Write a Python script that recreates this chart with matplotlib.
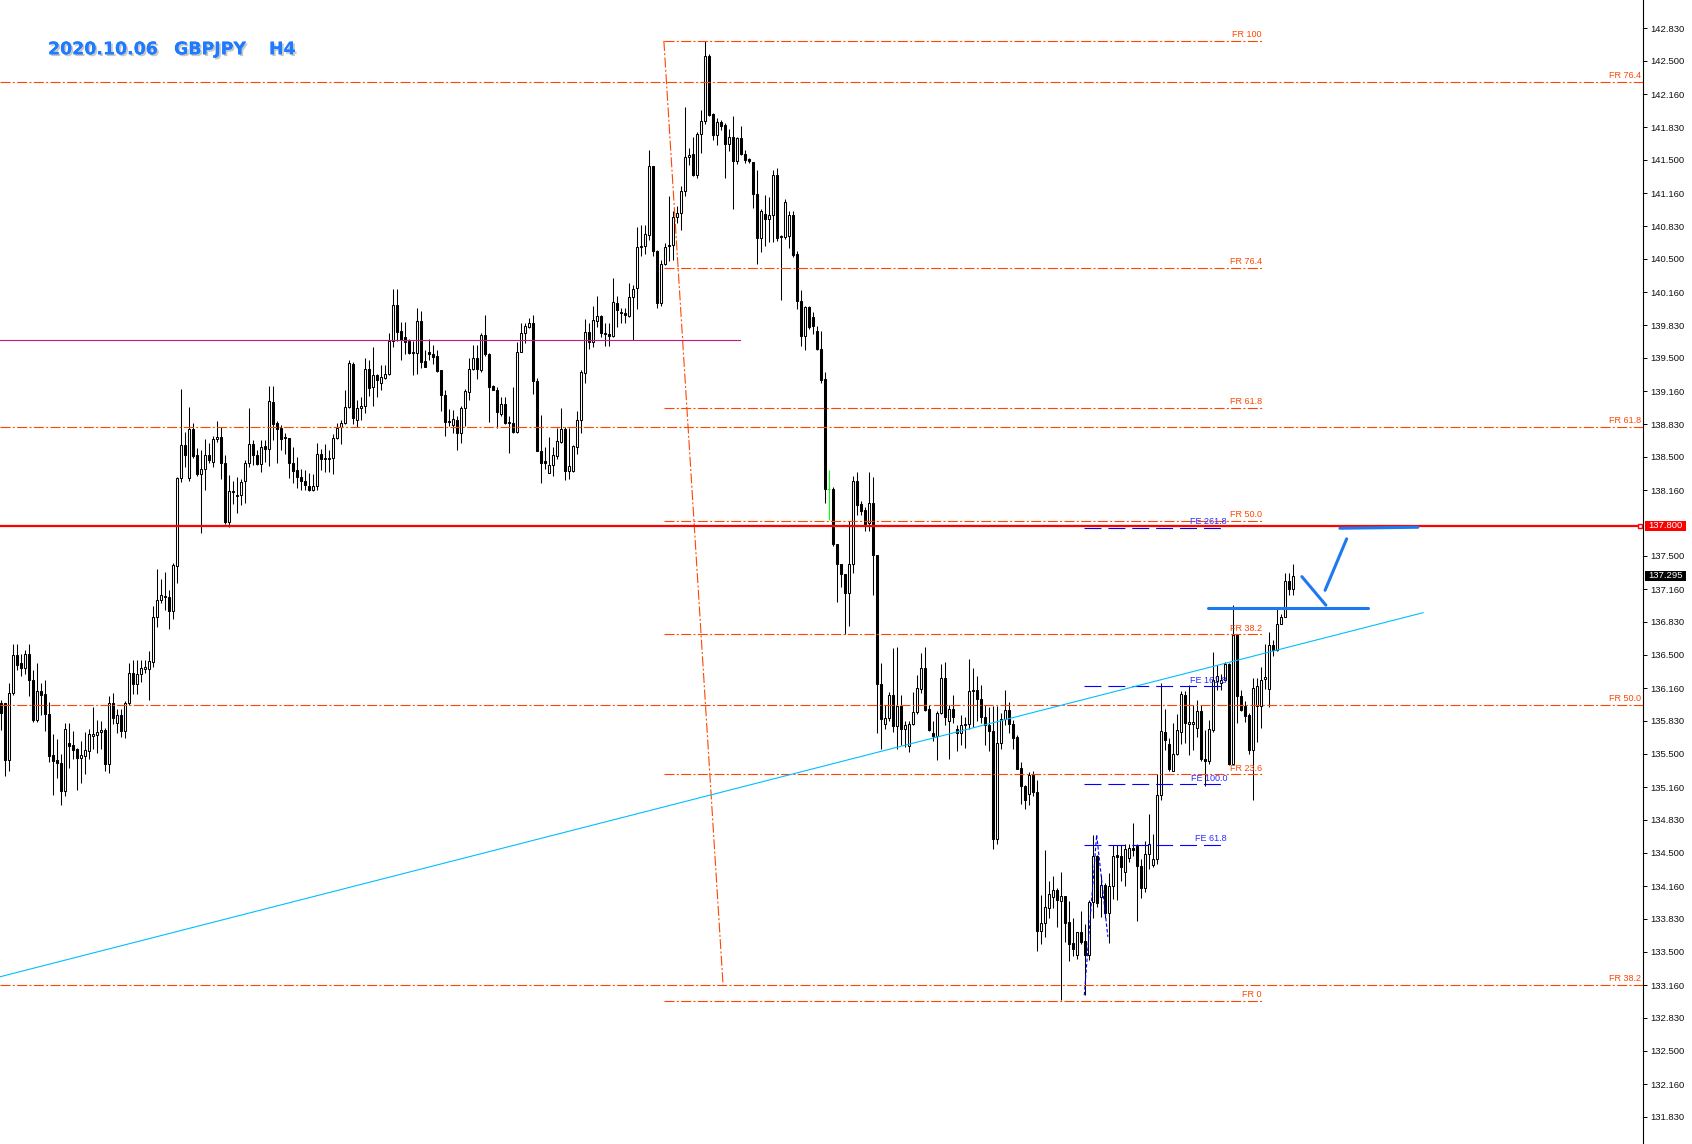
import numpy as np
import matplotlib
matplotlib.use("Agg")
import matplotlib.pyplot as plt
from matplotlib import patheffects as pe
from matplotlib.patches import Rectangle
from matplotlib.transforms import blended_transform_factory

plt.rcParams['lines.scale_dashes'] = False
plt.rcParams['font.family'] = ['DejaVu Sans']

# ---------------- data: GBPJPY H4 candles ----------------
opens = [
    136.01, 136.01, 135.44, 136.11, 136.50, 136.42, 136.37, 136.51, 136.24, 135.84,
    136.13, 136.10, 135.90, 135.49, 135.44, 135.41, 135.12, 135.61, 135.59, 135.55,
    135.46, 135.48, 135.53, 135.68, 135.69, 135.72, 135.74, 135.40, 136.01, 135.81,
    135.89, 135.73, 136.01, 136.31, 136.20, 136.30, 136.36, 136.36, 136.43, 136.88,
    137.05, 137.08, 137.08, 136.94, 137.40, 138.28, 138.62, 138.28, 138.78, 138.52,
    138.32, 138.38, 138.52, 138.45, 138.68, 138.70, 138.44, 137.84, 138.15, 138.10,
    138.11, 138.25, 138.44, 138.63, 138.52, 138.43, 138.61, 138.58, 139.05, 138.84,
    138.79, 138.70, 138.69, 138.44, 138.37, 138.29, 138.25, 138.20, 138.16, 138.20,
    138.53, 138.48, 138.48, 138.49, 138.69, 138.80, 138.84, 139.00, 139.44, 138.87,
    138.99, 139.01, 139.39, 139.20, 139.33, 139.24, 139.29, 139.34, 139.67, 140.03,
    139.77, 139.71, 139.67, 139.55, 139.55, 139.87, 139.47, 139.56, 139.54, 139.52,
    139.38, 139.12, 138.85, 138.82, 138.87, 138.74, 138.99, 139.15, 139.39, 139.50,
    139.38, 139.73, 139.54, 139.21, 139.17, 138.93, 139.03, 138.85, 138.84, 138.75,
    139.56, 139.75, 139.81, 139.85, 139.26, 138.56, 138.46, 138.34, 138.42, 138.51,
    138.65, 138.78, 138.36, 138.36, 138.60, 138.87, 139.35, 139.76, 139.66, 139.87,
    139.92, 139.75, 139.74, 139.72, 140.05, 139.95, 139.95, 139.92, 140.11, 140.20,
    140.62, 140.63, 140.74, 141.44, 140.58, 140.05, 140.45, 140.63, 140.64, 140.92,
    140.96, 141.18, 141.53, 141.56, 141.35, 141.76, 141.89, 142.55, 141.96, 141.75,
    141.88, 141.85, 141.66, 141.73, 141.49, 141.72, 141.56, 141.51, 141.48, 141.15,
    140.71, 140.95, 140.90, 140.94, 141.35, 140.72, 140.72, 140.73, 140.94, 140.55,
    140.07, 139.72, 140.01, 139.91, 139.77, 139.59, 139.28, 138.17, 138.17, 137.62,
    137.42, 137.31, 137.12, 137.42, 138.25, 138.02, 137.96, 137.83, 138.03, 137.51,
    136.20, 135.80, 135.86, 136.09, 135.78, 135.98, 135.75, 135.58, 135.80, 135.92,
    136.15, 136.37, 135.95, 135.71, 135.68, 135.91, 136.26, 135.83, 135.95, 135.75,
    135.71, 135.79, 135.80, 136.13, 136.14, 136.05, 135.87, 135.79, 135.73, 134.64,
    135.61, 135.85, 135.94, 135.80, 135.67, 135.36, 135.17, 135.09, 135.28, 135.11,
    133.71, 133.79, 133.94, 134.05, 134.12, 134.01, 134.06, 133.80, 133.59, 133.47,
    133.70, 133.61, 133.47, 134.00, 134.47, 134.05, 134.17, 133.89, 134.16, 134.48,
    134.47, 134.30, 134.45, 134.55, 134.57, 134.37, 134.14, 134.49, 134.38, 134.44,
    135.08, 135.72, 135.60, 135.32, 135.50, 135.72, 136.09, 135.80, 135.80, 135.76,
    135.93, 135.45, 135.43, 135.74, 136.23, 136.21, 136.24, 136.41, 135.40, 136.70,
    136.08, 135.98, 135.89, 135.54, 135.98, 135.98, 136.25, 136.15, 136.60, 136.55,
    136.81, 136.88, 137.24, 137.16,
]
highs = [
    136.04, 136.01, 136.21, 136.61, 136.61, 136.51, 136.55, 136.61, 136.35, 136.42,
    136.21, 136.24, 136.02, 135.70, 135.65, 135.50, 135.81, 135.81, 135.73, 135.56,
    135.63, 135.72, 135.75, 135.97, 135.84, 135.83, 135.76, 136.08, 136.11, 135.95,
    135.95, 136.03, 136.42, 136.45, 136.45, 136.45, 136.45, 136.54, 136.99, 137.37,
    137.26, 137.33, 137.15, 137.43, 138.29, 139.18, 138.75, 139.00, 138.84, 138.59,
    138.57, 138.68, 138.64, 138.71, 138.86, 138.80, 138.52, 138.31, 138.25, 138.29,
    138.27, 138.47, 138.99, 138.67, 138.57, 138.67, 138.67, 139.21, 139.21, 138.86,
    138.82, 138.74, 138.69, 138.60, 138.50, 138.38, 138.37, 138.33, 138.32, 138.64,
    138.58, 138.63, 138.57, 138.73, 138.84, 138.87, 139.17, 139.48, 139.46, 139.07,
    139.10, 139.50, 139.48, 139.61, 139.34, 139.43, 139.43, 139.75, 140.19, 140.19,
    139.86, 139.86, 139.69, 139.67, 140.00, 139.97, 139.58, 139.69, 139.63, 139.58,
    139.38, 139.17, 138.98, 138.97, 138.91, 139.01, 139.18, 139.50, 139.63, 139.63,
    139.75, 139.93, 139.55, 139.22, 139.20, 139.10, 139.10, 138.91, 139.20, 139.66,
    139.85, 139.85, 139.90, 139.93, 139.29, 138.92, 138.60, 138.70, 138.60, 138.79,
    138.99, 138.80, 138.79, 138.62, 138.96, 139.38, 139.89, 139.85, 140.02, 140.12,
    139.93, 139.85, 139.85, 140.30, 140.12, 140.00, 140.00, 140.25, 140.23, 140.82,
    140.84, 140.84, 141.60, 141.44, 140.59, 140.49, 140.66, 141.13, 140.98, 141.03,
    141.23, 142.03, 141.62, 141.73, 141.78, 142.00, 142.70, 142.57, 141.97, 141.92,
    141.90, 141.87, 141.81, 141.94, 141.73, 141.84, 141.60, 141.52, 141.48, 141.40,
    141.00, 141.14, 141.12, 141.40, 141.42, 140.74, 141.10, 140.98, 140.98, 140.58,
    140.18, 140.02, 140.02, 139.96, 139.82, 139.77, 139.36, 138.37, 138.19, 137.62,
    137.42, 137.31, 137.85, 138.30, 138.35, 138.05, 137.99, 138.35, 138.29, 137.51,
    136.42, 135.99, 136.12, 136.57, 136.58, 136.09, 135.83, 135.83, 136.12, 136.29,
    136.52, 136.58, 135.99, 135.83, 135.93, 136.41, 136.43, 135.99, 136.09, 135.79,
    135.89, 135.87, 136.46, 136.37, 136.28, 136.19, 135.99, 135.97, 135.98, 135.98,
    135.91, 136.14, 136.02, 135.84, 135.69, 135.42, 135.18, 135.31, 135.32, 135.23,
    134.07, 134.53, 134.21, 134.26, 134.14, 134.30, 134.06, 134.01, 133.84, 133.70,
    133.91, 133.78, 134.02, 134.68, 134.48, 134.27, 134.19, 134.29, 134.58, 134.58,
    134.58, 134.59, 134.59, 134.80, 134.59, 134.44, 134.62, 134.89, 134.69, 135.29,
    136.21, 135.95, 135.66, 135.81, 135.90, 136.13, 136.13, 136.19, 135.99, 136.04,
    135.99, 135.74, 135.84, 136.53, 136.40, 136.30, 136.43, 136.42, 137.00, 136.71,
    136.14, 136.03, 135.91, 136.26, 136.26, 136.38, 136.61, 136.73, 136.65, 136.98,
    136.91, 137.32, 137.32, 137.42,
]
lows = [
    135.74, 135.27, 135.32, 136.09, 136.35, 136.28, 136.30, 136.08, 135.82, 135.82,
    135.89, 135.73, 135.42, 135.08, 135.25, 134.98, 135.07, 135.36, 135.45, 135.13,
    135.20, 135.29, 135.45, 135.55, 135.51, 135.55, 135.32, 135.30, 135.80, 135.71,
    135.67, 135.66, 135.99, 136.10, 136.10, 136.22, 136.31, 136.04, 136.38, 136.78,
    137.02, 136.95, 136.76, 136.86, 137.22, 138.24, 138.40, 138.25, 138.49, 138.30,
    137.73, 138.16, 138.44, 138.40, 138.65, 138.27, 137.82, 137.79, 138.02, 137.93,
    138.01, 138.03, 138.40, 138.42, 138.42, 138.35, 138.45, 138.41, 138.67, 138.44,
    138.57, 138.53, 138.28, 138.23, 138.18, 138.16, 138.16, 138.15, 138.15, 138.16,
    138.37, 138.35, 138.35, 138.32, 138.68, 138.63, 138.83, 138.99, 138.83, 138.80,
    138.87, 138.94, 139.11, 139.01, 139.10, 139.17, 139.28, 139.32, 139.61, 139.67,
    139.48, 139.54, 139.54, 139.32, 139.34, 139.40, 139.41, 139.48, 139.44, 139.36,
    138.96, 138.71, 138.81, 138.74, 138.57, 138.64, 138.81, 139.07, 139.38, 139.28,
    139.36, 139.52, 138.85, 139.17, 138.79, 138.91, 138.83, 138.54, 138.74, 138.74,
    139.56, 139.65, 139.80, 139.13, 138.56, 138.23, 138.38, 138.33, 138.30, 138.48,
    138.64, 138.26, 138.27, 138.35, 138.53, 138.74, 139.24, 139.59, 139.61, 139.81,
    139.71, 139.62, 139.62, 139.71, 139.81, 139.85, 139.85, 139.91, 139.68, 139.99,
    140.53, 140.55, 140.69, 140.53, 140.00, 140.02, 140.44, 140.48, 140.49, 140.86,
    140.79, 141.13, 141.45, 141.34, 141.31, 141.57, 141.86, 141.94, 141.70, 141.65,
    141.80, 141.31, 141.59, 141.00, 141.46, 141.55, 141.47, 141.47, 141.01, 140.45,
    140.57, 140.63, 140.67, 140.67, 140.68, 140.08, 140.70, 140.61, 140.52, 139.99,
    139.62, 139.58, 139.79, 139.74, 139.58, 139.24, 138.03, 137.86, 137.60, 137.03,
    137.18, 136.71, 136.79, 137.32, 137.91, 137.91, 137.75, 137.75, 137.10, 135.71,
    135.55, 135.75, 135.83, 135.72, 135.55, 135.59, 135.57, 135.52, 135.79, 135.90,
    136.11, 135.93, 135.73, 135.63, 135.44, 135.90, 135.79, 135.45, 135.81, 135.53,
    135.59, 135.56, 135.75, 135.77, 135.83, 135.81, 135.59, 135.53, 134.54, 134.59,
    135.55, 135.79, 135.71, 135.55, 135.35, 134.99, 134.94, 134.98, 135.07, 133.51,
    133.58, 133.65, 133.84, 133.94, 133.75, 133.01, 133.60, 133.41, 133.46, 133.43,
    133.58, 133.06, 133.42, 133.84, 133.95, 133.85, 133.84, 133.59, 134.03, 134.02,
    134.21, 134.16, 134.41, 134.47, 133.81, 134.04, 134.10, 134.33, 134.36, 134.39,
    135.03, 135.54, 135.32, 135.32, 135.49, 135.60, 135.61, 135.49, 135.54, 135.67,
    135.43, 135.17, 135.40, 135.72, 136.14, 136.14, 136.23, 135.39, 135.39, 135.81,
    135.93, 135.82, 135.50, 135.03, 135.62, 135.76, 136.15, 135.97, 136.49, 136.54,
    136.81, 136.88, 137.10, 137.10,
]
closes = [
    135.91, 135.44, 136.11, 136.50, 136.40, 136.37, 136.51, 136.24, 135.84, 136.13,
    136.09, 135.90, 135.48, 135.43, 135.41, 135.12, 135.75, 135.58, 135.54, 135.46,
    135.49, 135.54, 135.70, 135.70, 135.72, 135.74, 135.40, 136.01, 135.86, 135.89,
    135.73, 136.01, 136.31, 136.20, 136.30, 136.37, 136.38, 136.44, 136.88, 137.05,
    137.10, 137.09, 136.94, 137.41, 138.28, 138.62, 138.52, 138.78, 138.51, 138.32,
    138.38, 138.52, 138.47, 138.68, 138.70, 138.44, 137.84, 138.15, 138.14, 138.11,
    138.24, 138.44, 138.63, 138.52, 138.43, 138.60, 138.58, 139.06, 138.83, 138.78,
    138.68, 138.69, 138.44, 138.36, 138.29, 138.25, 138.21, 138.16, 138.20, 138.53,
    138.48, 138.49, 138.49, 138.69, 138.79, 138.84, 139.00, 139.45, 138.89, 138.99,
    139.01, 139.39, 139.19, 139.33, 139.27, 139.30, 139.34, 139.67, 140.03, 139.76,
    139.68, 139.66, 139.55, 139.56, 139.87, 139.46, 139.41, 139.54, 139.51, 139.37,
    139.12, 138.85, 138.86, 138.88, 138.74, 138.99, 139.16, 139.39, 139.50, 139.39,
    139.73, 139.54, 139.20, 139.17, 138.95, 139.03, 138.84, 138.84, 138.75, 139.56,
    139.75, 139.82, 139.85, 139.26, 138.56, 138.44, 138.44, 138.42, 138.52, 138.66,
    138.78, 138.36, 138.41, 138.61, 138.87, 139.36, 139.76, 139.66, 139.88, 139.92,
    139.75, 139.74, 139.72, 140.06, 139.98, 139.96, 139.93, 140.11, 140.19, 140.62,
    140.63, 140.75, 141.44, 140.58, 140.05, 140.45, 140.62, 140.64, 140.92, 140.96,
    141.18, 141.53, 141.55, 141.35, 141.76, 141.89, 142.55, 141.95, 141.75, 141.88,
    141.84, 141.66, 141.73, 141.49, 141.72, 141.56, 141.50, 141.49, 141.15, 140.71,
    140.98, 140.90, 140.94, 141.35, 140.71, 140.73, 141.07, 140.94, 140.54, 140.07,
    139.72, 140.01, 139.81, 139.82, 139.59, 139.27, 138.17, 138.17, 137.62, 137.42,
    137.31, 137.12, 137.42, 138.25, 138.01, 137.95, 137.82, 138.03, 137.51, 136.20,
    135.85, 135.86, 136.09, 135.78, 135.98, 135.75, 135.79, 135.80, 135.92, 136.16,
    136.37, 135.94, 135.74, 135.68, 135.91, 136.26, 135.87, 135.95, 135.87, 135.71,
    135.79, 135.80, 136.13, 136.14, 136.05, 135.87, 135.79, 135.73, 134.64, 135.61,
    135.85, 135.94, 135.80, 135.66, 135.35, 135.17, 135.03, 135.28, 135.11, 133.71,
    133.79, 133.95, 134.08, 134.12, 134.02, 134.06, 133.79, 133.58, 133.53, 133.70,
    133.60, 133.47, 134.00, 134.47, 133.99, 134.17, 133.89, 134.16, 134.47, 134.46,
    134.36, 134.54, 134.55, 134.53, 134.37, 134.14, 134.49, 134.59, 134.44, 135.08,
    135.73, 135.64, 135.34, 135.50, 135.74, 136.10, 135.81, 135.82, 135.82, 135.93,
    135.45, 135.43, 135.75, 136.24, 136.28, 136.24, 136.41, 135.40, 136.70, 136.08,
    135.94, 135.88, 135.54, 136.16, 136.18, 136.24, 136.27, 136.60, 136.55, 136.81,
    136.88, 137.24, 137.16, 137.295,
]

tick_values = [142.830, 142.500, 142.160, 141.830, 141.500, 141.160, 140.830,
               140.500, 140.160, 139.830, 139.500, 139.160, 138.830, 138.500,
               138.160, 137.500, 137.160, 136.830, 136.500, 136.160, 135.830,
               135.500, 135.160, 134.830, 134.500, 134.160, 133.830, 133.500,
               133.160, 132.830, 132.500, 132.160, 131.830]

title_parts = ["2020.10.06", "GBPJPY", "H4"]

# Fibonacci retracement (wide set, labels at the price axis)
fr_wide_levels = [142.287, 138.800, 135.990, 133.163]
fr_wide_labels = ["FR 76.4", "FR 61.8", "FR 50.0", "FR 38.2"]
# Fibonacci retracement (swing set)
fr_swing_levels = [142.70, 140.41, 138.995, 137.85, 136.705, 135.29, 133.00]
fr_swing_labels = ["FR 100", "FR 76.4", "FR 61.8", "FR 50.0", "FR 38.2", "FR 23.6", "FR 0"]
fr_swing_span = (165.8, 315.3)           # bar index range
fr_swing_diag_x = [165.8, 180.6]
fr_swing_diag_y = [142.70, 133.16]
# Fibonacci expansion
fe_levels = [134.58, 135.19, 136.18, 137.78]
fe_labels = ["FE 61.8", "FE 100.0", "FE 161.8", "FE 261.8"]
fe_span = (270.8, 305.3)
fe_label_x = 306.6
fe_zig_x = [270.9, 274.0, 276.8]
fe_zig_y = [133.06, 134.68, 133.65]
# other objects
support_price = 137.800
last_price = 137.295
range_line_price = 139.68
range_line_span = (-0.17, 184.8)
trend_x = [-0.17, 355.6]
trend_y = [133.246, 136.924]
sketch_lines = [
    ([301.8, 341.8], [136.97, 136.97]),
    ([334.8, 354.3], [137.777, 137.787]),
    ([325.3, 331.3], [137.288, 137.00]),
    ([331.1, 336.5], [137.15, 137.67]),
]

# ---------------- figure ----------------
W, H = 1692, 1144
AXIS_PX = 1643
fig = plt.figure(figsize=(W / 100, H / 100), dpi=100)
fig.patch.set_facecolor("white")
ax = fig.add_axes([0, 0, AXIS_PX / W, 1])
x0 = -0.1675
ax.set_xlim(x0, x0 + AXIS_PX / 4.0)
ax.set_ylim(131.557, 143.113)
for s in ["top", "left", "bottom"]:
    ax.spines[s].set_visible(False)
ax.spines["right"].set_linewidth(0.8)
ax.spines["right"].set_color("black")
ax.xaxis.set_visible(False)
ax.yaxis.tick_right()
ax.set_yticks(tick_values)
ax.set_yticklabels([f"{v:.3f}" for v in tick_values],
                   fontfamily="Liberation Sans", fontsize=6.8, color="#111111")
ax.tick_params(axis="y", direction="out", length=3, width=0.7, pad=2.5)

# ---------------- candles ----------------
o = np.array(opens); h = np.array(highs); l = np.array(lows); c = np.array(closes)
x = np.arange(len(o))
doji = np.isclose(o, c)
up = (c > o) & ~doji
dn = (c < o) & ~doji
bot = np.minimum(o, c); top = np.maximum(o, c)
wl = np.minimum(l, bot); wh = np.maximum(h, top)
ax.vlines(x[~doji], wl[~doji], wh[~doji], color="black", lw=0.75, zorder=3)
ax.bar(x[up], (top - bot)[up], bottom=bot[up], width=0.5, facecolor="white",
       edgecolor="black", linewidth=0.75, zorder=4)
ax.bar(x[dn], (top - bot)[dn], bottom=bot[dn], width=0.5, facecolor="black",
       edgecolor="black", linewidth=0.75, zorder=4)
ax.vlines(x[doji], wl[doji], wh[doji], color="#00ff00", lw=0.75, zorder=4)
ax.hlines(o[doji], x[doji] - 0.3, x[doji] + 0.3, color="#00ff00", lw=0.75, zorder=4)

# ---------------- objects ----------------
FR_COL = "#FF4500"
FE_COL = "#0000FF"
dashdot = (0, (7.2, 1.7, 1.4, 1.7))
fe_dash = (0, (12.2, 5.0))

for lev in fr_wide_levels:
    ax.axhline(lev, color=FR_COL, lw=0.8, ls=dashdot, zorder=5)
for lev, lab in zip(fr_wide_levels, fr_wide_labels):
    ax.annotate(lab, xy=(x0 + (AXIS_PX - 2) / 4.0, lev), xytext=(0, 1.2),
                textcoords="offset points", ha="right", va="bottom",
                fontsize=6.5, family="Liberation Sans", color=FR_COL, zorder=6)

for lev in fr_swing_levels:
    ax.plot(fr_swing_span, [lev, lev], color=FR_COL, lw=0.8, ls=dashdot, zorder=5)
for lev, lab in zip(fr_swing_levels, fr_swing_labels):
    ax.annotate(lab, xy=(fr_swing_span[1], lev), xytext=(0, 1.2),
                textcoords="offset points", ha="right", va="bottom",
                fontsize=6.5, family="Liberation Sans", color=FR_COL, zorder=6)
ax.plot(fr_swing_diag_x, fr_swing_diag_y, color=FR_COL, lw=0.8, ls=dashdot, zorder=5)

for lev in fe_levels:
    ax.plot(fe_span, [lev, lev], color=FE_COL, lw=0.8, ls=fe_dash, zorder=5)
for lev, lab in zip(fe_levels, fe_labels):
    ax.annotate(lab, xy=(fe_label_x, lev), xytext=(0, 1.2),
                textcoords="offset points", ha="right", va="bottom",
                fontsize=6.5, family="Liberation Sans", color="#2B2BFF", zorder=6)
ax.plot(fe_zig_x, fe_zig_y, color=FE_COL, lw=0.8, ls=(0, (2.5, 1.5)), zorder=5)

ax.plot(range_line_span, [range_line_price] * 2, color="#C71585", lw=0.8, zorder=5)
ax.plot(trend_x, trend_y, color="#00BFFF", lw=0.8, zorder=5)
ax.axhline(support_price, color="#FF0000", lw=1.6, zorder=6)
ax.plot([x0 + (AXIS_PX - 3.5) / 4.0], [support_price], marker="s", ms=3.2,
        mfc="white", mec="#FF0000", mew=1.0, clip_on=False, zorder=7)

for xs, ys in sketch_lines:
    ax.plot(xs, ys, color="#1E78F0", lw=2.2, solid_capstyle="round", zorder=6)

# ---------------- price boxes on the axis ----------------
trans = blended_transform_factory(fig.transFigure, ax.transData)
box_h = 10.0 / 99.0
for price, face in [(support_price, "#FF0000"), (last_price, "#000000")]:
    ax.add_patch(Rectangle((1645 / W, price - box_h / 2), 41 / W, box_h,
                           transform=trans, facecolor=face, edgecolor="none",
                           clip_on=False, zorder=10))
    ax.text((1645 + 20.5) / W, price, f"{price:.3f}", transform=trans,
            ha="center", va="center", color="white", fontsize=6.8,
            family="Liberation Sans", zorder=11, clip_on=False)

# ---------------- title ----------------
title_x_px = [48, 174, 269]
shadow = [pe.withSimplePatchShadow(offset=(1.3, -1.3), shadow_rgbFace="#9a9a9a", alpha=0.55),
          pe.Normal()]
for txt, xp in zip(title_parts, title_x_px):
    fig.text(xp / W, 1 - 54.3 / H, txt, ha="left", va="baseline",
             fontsize=12.5, fontweight="bold", color="#1E7BFF",
             path_effects=shadow)

fig.savefig("out.png", dpi=100, facecolor="white")
